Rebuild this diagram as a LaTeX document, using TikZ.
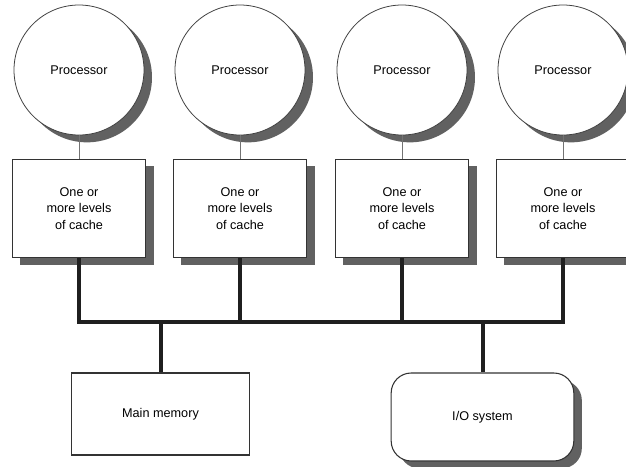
\documentclass[tikz,border=0pt]{standalone}
\usepackage{fontspec}
\setmainfont{Liberation Sans}
\usetikzlibrary{shadows}
\tikzset{
  shade/.style={drop shadow={shadow xshift=6pt, shadow yshift=-5.5pt, fill=black!62, opacity=1}},
  procnode/.style={circle, draw=black!75, line width=0.6pt, fill=white, minimum size=97.5pt, inner sep=0pt, shade},
  cachebox/.style={rectangle, draw=black!80, line width=0.8pt, fill=white, minimum width=100pt, minimum height=74pt, align=center, shade},
  bus/.style={line width=3pt, draw=black!88, line join=miter},
  link/.style={line width=0.6pt, draw=black!55}
}
\begin{document}
\begin{tikzpicture}[x=0.75pt, y=-0.75pt, font=\fontsize{9.5}{12.6}\selectfont]
\useasboundingbox (0,0) rectangle (626,467);
\clip (0,0) rectangle (626,467);
\def\by{322}
% Processors and caches
\foreach \i/\x in {1/79, 2/240, 3/402, 4/563} {
  \node[procnode] (p\i) at (\x,70) {Processor};
  \node[cachebox] (c\i) at (\x,208.5) {One or\\more levels\\of cache};
  \draw[link] (p\i.south) -- (c\i.north);
}
% Memory and I/O
\node[rectangle, draw=black!80, line width=0.8pt, fill=white, minimum width=134pt, minimum height=61.5pt] (mem) at (160.5,414) {Main memory};
\node[rectangle, rounded corners=15pt, draw=black!80, line width=0.8pt, fill=white, minimum width=137pt, minimum height=66pt, shade] (io) at (482.5,417) {I/O system};
% Bus
\coordinate (busl) at (79,\by);
\draw[bus] (c1.south) -- (c1.south |- busl) -- (c4.south |- busl) -- (c4.south);
\draw[bus] (c2.south) -- (c2.south |- busl);
\draw[bus] (c3.south) -- (c3.south |- busl);
\draw[bus] (mem.north |- busl) -- (mem.north);
\draw[bus] (io.north |- busl) -- (io.north);
\end{tikzpicture}
\end{document}
